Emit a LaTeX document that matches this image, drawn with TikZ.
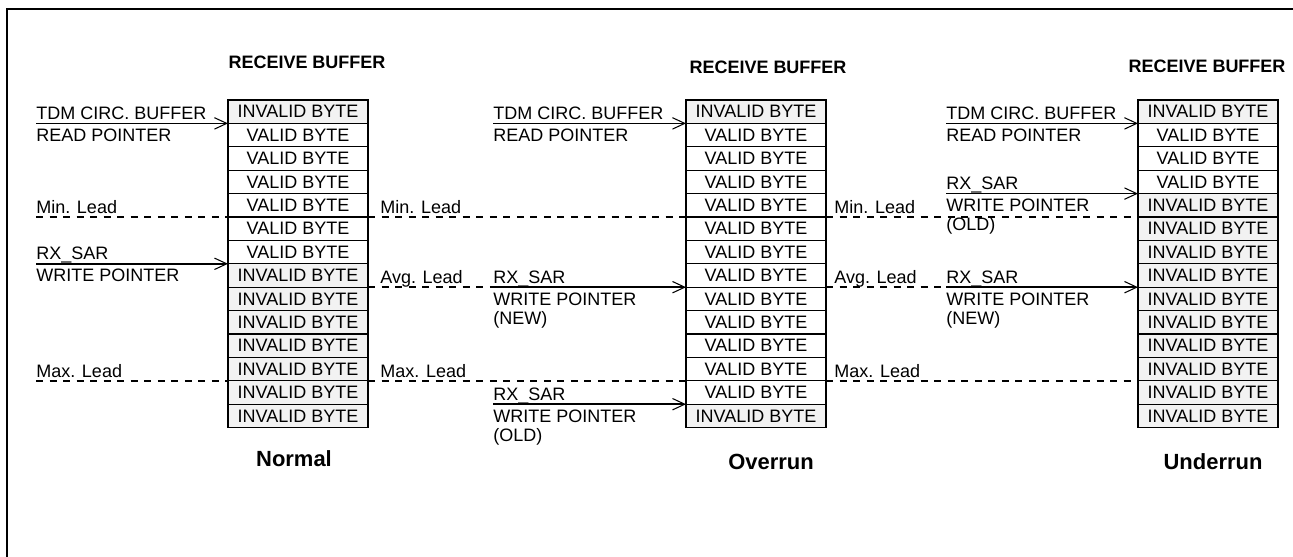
\documentclass[tikz,border=0pt]{standalone}
\usepackage{fontspec}
\setmainfont{Liberation Sans}
\usepackage{tikz}
\usetikzlibrary{arrows.meta}
\newcommand\lblfont{\fontsize{10.24pt}{10.8pt}\selectfont}
\newcommand\casefont{\fontsize{12.5pt}{14pt}\selectfont\bfseries}

\begin{document}
\begin{tikzpicture}[x=0.02cm, y=-0.02cm, font=\lblfont,
  cell/.style={draw, line width=0.7pt, minimum width=2.8cm, minimum height=0.468cm,
    inner sep=0pt, outer sep=0pt},
  INVALID/.style={fill=black!5},
  VALID/.style={fill=white},
  box/.style={line width=1pt},
  ptr/.style={line width=0.9pt, -{Straight Barb[length=7pt,width=6.5pt,line width=0.6pt]}},
  lead/.style={line width=0.85pt, dash pattern=on 4pt off 3.7pt},
  lab/.style={inner sep=0pt, align=left},
  uplab/.style={lab, anchor=base west, yshift=0.08cm},
  dnlab/.style={lab, anchor=north west, yshift=-0.1cm},
  leadlab/.style={lab, anchor=base west, yshift=0.07cm},
  ttl/.style={font=\lblfont\bfseries},
  case/.style={font=\casefont}]
\useasboundingbox (0,0) rectangle (1293,557);
\draw[line width=1.1pt] (1293,9) -| (7,557);
% ---- Normal ----
\node[ttl] (ntitle) at (307,62) {RECEIVE BUFFER};
\foreach \s [count=\i] in {INVALID,VALID,VALID,VALID,VALID,VALID,VALID,
    INVALID,INVALID,INVALID,INVALID,INVALID,INVALID,INVALID}
  \node[cell,\s] (n\i) at (298,{100+(\i-0.5)*23.4}) {\s\ BYTE};
\draw[box] (n1.north west) rectangle (n14.south east);
\node[case] (ncase) at (294,459) {Normal};
% ---- Overrun ----
\node[ttl] (otitle) at (768,67) {RECEIVE BUFFER};
\foreach \s [count=\i] in {INVALID,VALID,VALID,VALID,VALID,VALID,VALID,
    VALID,VALID,VALID,VALID,VALID,VALID,INVALID}
  \node[cell,\s] (o\i) at (756,{100+(\i-0.5)*23.4}) {\s\ BYTE};
\draw[box] (o1.north west) rectangle (o14.south east);
\node[case] (ocase) at (771,462) {Overrun};
% ---- Underrun ----
\node[ttl] (utitle) at (1207,66) {RECEIVE BUFFER};
\foreach \s [count=\i] in {INVALID,VALID,VALID,VALID,INVALID,INVALID,INVALID,
    INVALID,INVALID,INVALID,INVALID,INVALID,INVALID,INVALID}
  \node[cell,\s] (u\i) at (1208,{100+(\i-0.5)*23.4}) {\s\ BYTE};
\draw[box] (u1.north west) rectangle (u14.south east);
\node[case] (ucase) at (1213,462) {Underrun};
% ---- pointer / lead columns ----
\coordinate (lx1) at (36,0);
\coordinate (lx2) at (380,0);
\coordinate (ox) at (493,0);
\coordinate (lx3) at (834,0);
\coordinate (ux) at (946,0);
% ---- left of Normal ----
\draw[ptr] (n1.south west -| lx1) coordinate (nrd) -- (n1.south west);
\node[uplab] (nrdt) at (nrd) {TDM CIRC. BUFFER};
\node[dnlab] (nrdb) at (nrd) {READ POINTER};
\draw[ptr] (n7.south west -| lx1) coordinate (nwr) -- (n7.south west);
\node[uplab] (nwrt) at (nwr) {RX\_SAR};
\node[dnlab] (nwrb) at (nwr) {WRITE POINTER};
\draw[lead] (n5.south west -| lx1) coordinate (nmin) -- (n5.south west);
\node[leadlab] (nmint) at (nmin) {Min. Lead};
\draw[lead] (n12.south west -| lx1) coordinate (nmax) -- (n12.south west);
\node[leadlab] (nmaxt) at (nmax) {Max. Lead};
% ---- Normal -> Overrun ----
\draw[lead] (n5.south east) -- (o5.south west);
\node[leadlab] (omint) at (n5.south east -| lx2) {Min. Lead};
\draw[lead] (n8.south east) -- (o8.south west -| ox) coordinate (own);
\node[leadlab] (oavgt) at (n8.south east -| lx2) {Avg. Lead};
\draw[lead] (n12.south east) -- (o12.south west);
\node[leadlab] (omaxt) at (n12.south east -| lx2) {Max. Lead};
\draw[ptr] (o1.south west -| ox) coordinate (ord) -- (o1.south west);
\node[uplab] (ordt) at (ord) {TDM CIRC. BUFFER};
\node[dnlab] (ordb) at (ord) {READ POINTER};
\draw[ptr] (own) -- (o8.south west);
\node[uplab] (ownt) at (own) {RX\_SAR};
\node[dnlab] (ownb) at (own) {WRITE POINTER\\(NEW)};
\draw[ptr] (o13.south west -| ox) coordinate (owo) -- (o13.south west);
\node[uplab] (owot) at (owo) {RX\_SAR};
\node[dnlab] (owob) at (owo) {WRITE POINTER\\(OLD)};
% ---- Overrun -> Underrun ----
\draw[lead] (o5.south east) -- (u5.south west);
\node[leadlab] (umint) at (o5.south east -| lx3) {Min. Lead};
\draw[lead] (o8.south east) -- (u8.south west -| ux) coordinate (uwn);
\node[leadlab] (uavgt) at (o8.south east -| lx3) {Avg. Lead};
\draw[lead] (o12.south east) -- (u12.south west);
\node[leadlab] (umaxt) at (o12.south east -| lx3) {Max. Lead};
\draw[ptr] (u1.south west -| ux) coordinate (urd) -- (u1.south west);
\node[uplab] (urdt) at (urd) {TDM CIRC. BUFFER};
\node[dnlab] (urdb) at (urd) {READ POINTER};
\draw[ptr] (u4.south west -| ux) coordinate (uwo) -- (u4.south west);
\node[uplab] (uwot) at (uwo) {RX\_SAR};
\node[dnlab] (uwob) at (uwo) {WRITE POINTER\\(OLD)};
\draw[ptr] (uwn) -- (u8.south west);
\node[uplab] (uwnt) at (uwn) {RX\_SAR};
\node[dnlab] (uwnb) at (uwn) {WRITE POINTER\\(NEW)};
\end{tikzpicture}
\end{document}
